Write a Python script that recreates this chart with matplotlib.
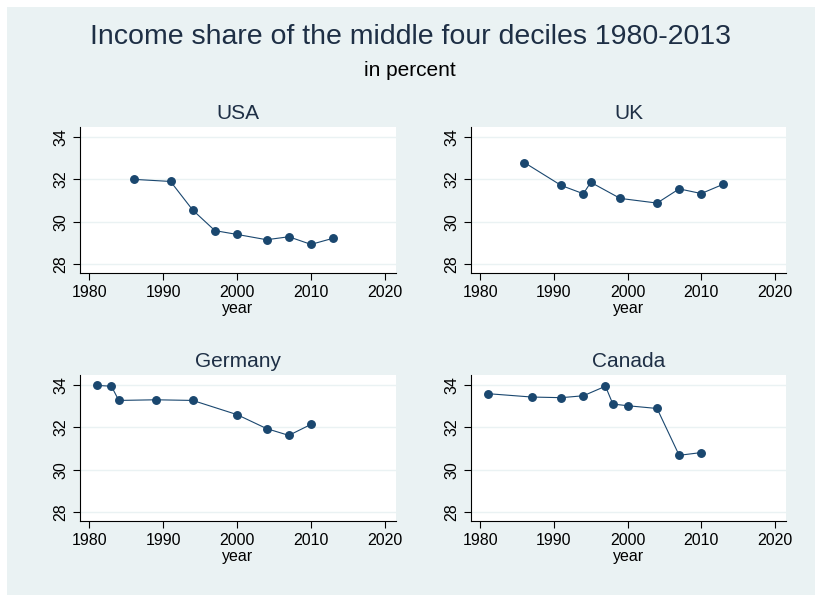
import numpy as np
import matplotlib.pyplot as plt
from matplotlib.patches import Rectangle

plt.rcParams['font.family'] = ['Liberation Sans', 'DejaVu Sans']

# data
usa_year = [1986, 1991, 1994, 1997, 2000, 2004, 2007, 2010, 2013]
usa_share = [32.0, 31.9, 30.55, 29.58, 29.4, 29.15, 29.29, 28.93, 29.22]

uk_year = [1986, 1991, 1994, 1995, 1999, 2004, 2007, 2010, 2013]
uk_share = [32.79, 31.71, 31.32, 31.86, 31.10, 30.88, 31.55, 31.33, 31.77]

ger_year = [1981, 1983, 1984, 1989, 1994, 2000, 2004, 2007, 2010]
ger_share = [33.98, 33.94, 33.27, 33.30, 33.27, 32.6, 31.94, 31.62, 32.14]

can_year = [1981, 1987, 1991, 1994, 1997, 1998, 2000, 2004, 2007, 2010]
can_share = [33.59, 33.43, 33.40, 33.49, 33.94, 33.10, 33.02, 32.89, 30.68, 30.81]

panels = [('USA', usa_year, usa_share), ('UK', uk_year, uk_share),
          ('Germany', ger_year, ger_share), ('Canada', can_year, can_share)]

W, H = 822, 602
navy = '#1a476f'
bg = '#eaf2f3'
txt = '#1e2f45'

fig = plt.figure(figsize=(W / 100, H / 100), dpi=100)
fig.patch.set_facecolor('white')
fig.patches.append(Rectangle((7 / W, 1 - 595 / H), 808 / W, 588 / H,
                             transform=fig.transFigure, facecolor=bg,
                             edgecolor='none', zorder=-10))

fig.text(410 / W, 1 - 37 / H, 'Income share of the middle four deciles 1980-2013',
         ha='center', va='center', fontsize=20.5, color=txt)
fig.text(410 / W, 1 - 70 / H, 'in percent', ha='center', va='center',
         fontsize=15, color='black')

boxes = [(80, 396, 127, 273), (471, 786, 127, 273),
         (80, 396, 375, 521), (471, 786, 375, 521)]

for (name, yrs, vals), (l, r, t, b) in zip(panels, boxes):
    ax = fig.add_axes([l / W, 1 - b / H, (r - l) / W, (b - t) / H])
    ax.set_facecolor('white')
    ax.plot(yrs, vals, color=navy, lw=0.8, marker='o', ms=5.4,
            mfc=navy, mec=navy, zorder=3)
    ax.set_xlim(1978.75, 2021.5)
    ax.set_ylim(27.58, 34.47)
    ax.set_xticks([1980, 1990, 2000, 2010, 2020])
    ax.set_yticks([28, 30, 32, 34])
    ax.grid(axis='y', color=bg, lw=1)
    ax.set_axisbelow(True)
    for s in ['top', 'right']:
        ax.spines[s].set_visible(False)
    for s in ['left', 'bottom']:
        ax.spines[s].set_color('black')
        ax.spines[s].set_linewidth(0.8)
    ax.tick_params(axis='both', length=5, width=0.8, labelsize=11.5, colors='black')
    plt.setp(ax.get_yticklabels(), rotation=90, va='center')
    ax.set_xlabel('year', fontsize=11.5, labelpad=1)
    ax.set_title(name, fontsize=15, color=txt, pad=6)

fig.savefig('out.png', dpi=100, facecolor='white')
